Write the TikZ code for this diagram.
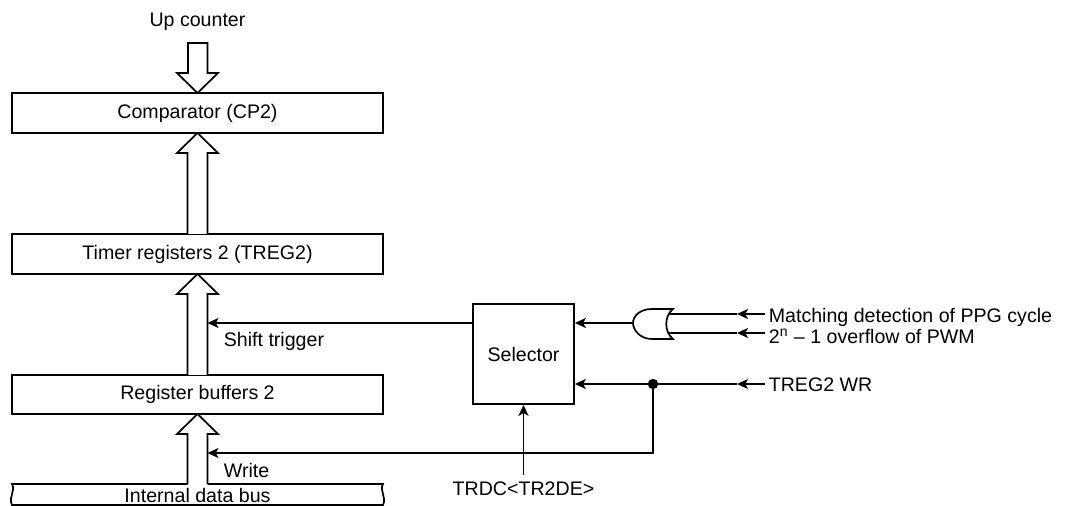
\documentclass[tikz,border=0pt]{standalone}
\usepackage{fontspec}
\setmainfont{Liberation Sans}
\usetikzlibrary{arrows.meta,calc}
\newcommand\hollowup[3]{%
  \draw[bigarrow] ({#1-10},#2) -- ({#1-10},{#3+20}) -- ({#1-20.5},{#3+20}) -- (#1,#3) -- ({#1+20.5},{#3+20}) -- ({#1+10},{#3+20}) -- ({#1+10},#2);}
\begin{document}
\begin{tikzpicture}[x=0.5pt,y=-0.5pt, line width=0.85pt,
  font=\fontsize{9.8}{11.8}\selectfont,
  blk/.style={draw, minimum height=20pt, inner sep=0pt},
  sig/.style={-{Stealth[length=5.5pt,width=5pt,inset=1.4pt]}},
  lbl/.style={inner sep=0pt},
  bigarrow/.style={draw, fill=white, line join=miter},
]
\useasboundingbox (0,0) rectangle (1068,506);
% blocks
\node[blk, minimum width=185.5pt] (cmp) at (197.5,113) {Comparator (CP2)};
\node[blk, minimum width=185.5pt] (treg) at (197.5,254) {Timer registers 2 (TREG2)};
\node[blk, minimum width=185.5pt, minimum height=19.5pt] (rbuf) at (197.5,394.5) {Register buffers 2};
\node[blk, minimum width=50.5pt, minimum height=50pt] (sel) at (523.5,354) {Selector};
% labels
\node[lbl, anchor=base] (up) at (197.5,27) {Up counter};
\node[lbl, anchor=base west] (shift) at (223,347) {Shift trigger};
\node[lbl, anchor=base west] (write) at (223,477) {Write};
\node[lbl, anchor=base] (bus) at (197.5,502) {Internal data bus};
\node[lbl, anchor=base] (trdc) at (523.5,495) {TRDC<TR2DE>};
\node[lbl, anchor=base west] (m) at (768,323) {Matching detection of PPG cycle};
\node[lbl, anchor=base west] (o) at (768,344) {2\textsuperscript{\scriptsize n} – 1 overflow of PWM};
\node[lbl, anchor=base west] (wr) at (768,392) {TREG2 WR};
% hollow bus arrows
\draw[bigarrow] (188,43) -- (188,73) -- (177,73) -- (197.5,93) -- (218,73) -- (207.5,73) -- (207.5,43) -- cycle;
\hollowup{197.5}{234}{133}
\hollowup{197.5}{375}{274}
\hollowup{197.5}{484}{414}
% internal data bus
\draw (187.5,484) -- (12,484) .. controls (16,491) and (8,497) .. (12,505) -- (383,505) .. controls (387,497) and (379,491) .. (383,484) -- (207.5,484);
% OR gate
\coordinate (orout) at (633,323);
\draw (673,309) -- (652,309) .. controls (640,309) and (633,316) .. (orout) .. controls (633,330) and (640,339) .. (652,339) -- (673,339) .. controls (664,332) and (664,316) .. cycle;
\coordinate (in1) at (669,314);
\coordinate (in2) at (669,333);
\coordinate (e1) at (765,314);
\coordinate (e2) at (765,333);
\coordinate (e3) at (765,384);
\coordinate (a1) at (737,314);
\coordinate (a2) at (737,333);
\coordinate (a3) at (737,384);
\draw[sig] (e1) -- (a1); \draw (a1) -- (in1);
\draw[sig] (e2) -- (a2); \draw (a2) -- (in2);
\draw[sig] (orout) -- (sel.east |- orout);
\coordinate (shaftR) at (207.5,323);
\draw[sig] (sel.west |- orout) -- (shaftR);
% TREG2 WR
\coordinate (dot) at (653,384);
\draw[sig] (e3) -- (a3);
\draw[sig] (a3) -- (sel.east |- e3);
\fill (dot) circle (2.6pt);
\coordinate (wcorner) at (653,453);
\coordinate (wend) at (207.5,453);
\draw[sig] (dot) -- (wcorner) -- (wend);
% TRDC
\coordinate (tstart) at (523.5,475);
\draw[sig] (tstart) -- (sel.south);
\end{tikzpicture}
\end{document}
